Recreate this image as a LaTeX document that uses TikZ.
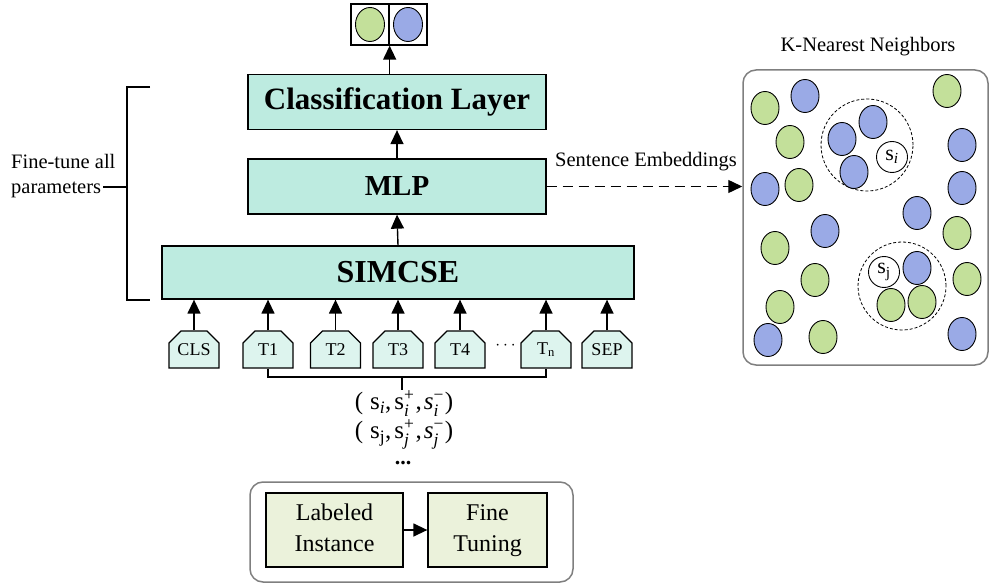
\documentclass[tikz,border=0pt]{standalone}
\usepackage{fontspec}
\usepackage{amsmath}
\setmainfont{Liberation Serif}
\usetikzlibrary{arrows.meta,shapes.misc,shapes.geometric}
\definecolor{cTeal}{HTML}{BDEBE0}
\definecolor{cTok}{HTML}{DDF4EE}
\definecolor{cPale}{HTML}{EBF2DB}
\definecolor{cGreen}{HTML}{C3E09A}
\definecolor{cBlue}{HTML}{9AAAE6}
\definecolor{cFrame}{HTML}{7F7F7F}
\tikzset{
  layer/.style={draw=black, line width=1.3pt, fill=cTeal, inner sep=0pt},
  tok/.style={chamfered rectangle, chamfered rectangle corners={north west,north east},
    chamfered rectangle xsep=6pt, chamfered rectangle ysep=6pt,
    draw=black, line width=1.2pt, fill=cTok, inner sep=0pt,
    minimum width=50pt, minimum height=37pt, font=\fontsize{18}{20}\selectfont},
  obox/.style={draw=black, line width=1.3pt, fill=white, inner sep=0pt,
    minimum width=38pt, minimum height=41pt},
  pale/.style={draw=black, line width=1.3pt, fill=cPale, inner sep=0pt,
    minimum height=74pt, align=center, font=\fontsize{24}{31}\selectfont},
  frame/.style={draw=cFrame, line width=1.5pt, rounded corners=13pt, inner sep=0pt},
  gdot/.style={ellipse, draw=black, line width=0.9pt, fill=cGreen, inner sep=0pt,
    minimum width=28pt, minimum height=33pt},
  bdot/.style={ellipse, draw=black, line width=0.9pt, fill=cBlue, inner sep=0pt,
    minimum width=28pt, minimum height=33pt},
  wdot/.style={circle, draw=black, line width=0.9pt, fill=white, inner sep=0pt,
    minimum size=31pt, font=\fontsize{22}{24}\selectfont},
  ring/.style={circle, draw=black, line width=0.8pt, dash pattern=on 3pt off 2pt, inner sep=0pt},
  arr/.style={line width=1.4pt, -{Triangle[width=13pt,length=14pt]}},
  txt/.style={inner sep=0pt, font=\fontsize{20.5}{25}\selectfont},
  frm/.style={inner sep=0pt, align=center, font=\fontsize{25}{29}\selectfont},
}
\begin{document}
\begin{tikzpicture}[x=1pt,y=-1pt]
\useasboundingbox (0,0) rectangle (990,585);

% output boxes
\node[obox] (outL) at (370,24.5) {};
\node[obox] (outR) at (408,24.5) {};
\node[gdot, minimum width=29pt, minimum height=34pt] (og) at (outL) {};
\node[bdot, minimum width=29pt, minimum height=34pt] (ob) at (outR) {};

% layers
\node[layer, minimum width=298pt, minimum height=55pt, font=\fontsize{31}{34}\selectfont\bfseries] (cls) at (397,102) {Classification Layer};
\node[layer, minimum width=298pt, minimum height=55pt, font=\fontsize{29}{32}\selectfont\bfseries] (mlp) at (397,186.5) {MLP};
\node[layer, minimum width=472pt, minimum height=53pt, font=\fontsize{32}{35}\selectfont\bfseries] (sim) at (398,272.5) {SIMCSE};

\draw[arr] (cls.north -| outL.east) -- (outL.south east);
\draw[arr] (mlp.north) -- (cls.south);
\draw[arr] (sim.north) -- (mlp.south);

% bracket
\coordinate (bt) at (150,87);
\coordinate (bb) at (150,300);
\coordinate (bm) at (127,187);
\coordinate (bl) at (103,187);
\draw[line width=1.3pt] (bt) -- (127,87) -- (127,300) -- (bb);
\draw[line width=1.3pt] (bl) -- (bm);
\node[txt, anchor=west, align=left] (ft) at (11,176) {Fine-tune all\\parameters};

% tokens
\node[tok] (tcls) at (194,349.5) {CLS};
\node[tok] (t1) at (268,349.5) {T1};
\node[tok] (t2) at (335.5,349.5) {T2};
\node[tok] (t3) at (398,349.5) {T3};
\node[tok] (t4) at (460,349.5) {T4};
\node[tok] (tn) at (546,349.5) {T\textsubscript{n}};
\node[tok] (tsep) at (607,349.5) {SEP};
\node[inner sep=0pt, font=\fontsize{18}{20}\selectfont] (tdots) at (507,346) {$\cdots$};
\foreach \t in {tcls,t1,t2,t3,t4,tn,tsep}{
  \draw[arr] (\t.north) -- (\t.north |- sim.south);
}

% bracket under tokens
\coordinate (ua) at (268,377);
\coordinate (ub) at (546,377);
\coordinate (uc) at (402,377);
\coordinate (ud) at (402,390);
\draw[line width=1.2pt] (t1.south) -- (ua) -- (ub) -- (tn.south);
\draw[line width=1.2pt] (uc) -- (ud);

% formulas
\node[frm] (f1) at (404,420)
  {(\hspace{7pt}$\text{s}_{\text{\itshape i}}$,\hspace{3pt}$\text{s}_{\text{\itshape i}}^{\text{+}}$\hspace{1pt},\hspace{2pt}$\text{\itshape s}_{\text{\itshape i}}^{\text{−}}$\hspace{1pt})\\
   (\hspace{7pt}$\text{s}_{\text{j}}$,\hspace{3pt}$\text{s}_{\text{\itshape j}}^{\text{+}}$\hspace{1pt},\hspace{2pt}$\text{\itshape s}_{\text{\itshape j}}^{\text{−}}$\hspace{1pt})};
\node[inner sep=0pt, font=\fontsize{22}{26}\selectfont\bfseries] (f3) at (403,463) {...};

% bottom box
\node[frame, minimum width=323pt, minimum height=100pt] (bot) at (411.5,532) {};
\node[pale, minimum width=137pt] (lab) at (334.5,530) {Labeled\strut\\Instance\strut};
\node[pale, minimum width=119pt] (fine) at (487.5,530) {Fine\strut\\Tuning\strut};
\draw[arr] (lab.east) -- (fine.west);

% KNN panel
\node[txt] (ktitle) at (868,47) {K-Nearest Neighbors};
\node[frame, minimum width=245pt, minimum height=295pt] (knn) at (865.5,217.5) {};
\draw[arr, dash pattern=on 10pt off 6pt] (mlp.east) -- (mlp.east -| knn.west);
\node[txt] (se) at (646,162) {Sentence Embeddings};

% rings
\node[ring, minimum size=92pt] (r1) at (867,145) {};
\node[ring, minimum size=88pt] (r2) at (902,286) {};

% dots
\node[gdot] (d1) at (765,108) {};
\node[bdot] (d2) at (805,96) {};
\node[gdot] (d3) at (790,142) {};
\node[gdot] (d4) at (947,91) {};
\node[bdot] (d5) at (842,139) {};
\node[bdot] (d6) at (873,122) {};
\node[bdot] (d7) at (854,172) {};
\node[wdot] (si) at (892,157) {$\text{s}_{\text{\itshape i}}$};
\node[bdot] (d8) at (962,145) {};
\node[bdot] (d9) at (765,189) {};
\node[gdot] (d10) at (799,185) {};
\node[bdot] (d11) at (962,188) {};
\node[bdot] (d12) at (917,213) {};
\node[bdot] (d13) at (825,231) {};
\node[gdot] (d14) at (775,248) {};
\node[gdot] (d15) at (957,233) {};
\node[gdot] (d16) at (815,280) {};
\node[wdot] (sj) at (884,272) {$\text{s}_{\text{j}}$};
\node[bdot] (d17) at (917,268) {};
\node[gdot] (d18) at (891,305) {};
\node[gdot] (d19) at (922,302) {};
\node[gdot] (d20) at (967,279) {};
\node[gdot] (d21) at (780,307) {};
\node[bdot] (d22) at (768,340) {};
\node[gdot] (d23) at (823,337) {};
\node[bdot] (d24) at (962,334) {};
\end{tikzpicture}
\end{document}
